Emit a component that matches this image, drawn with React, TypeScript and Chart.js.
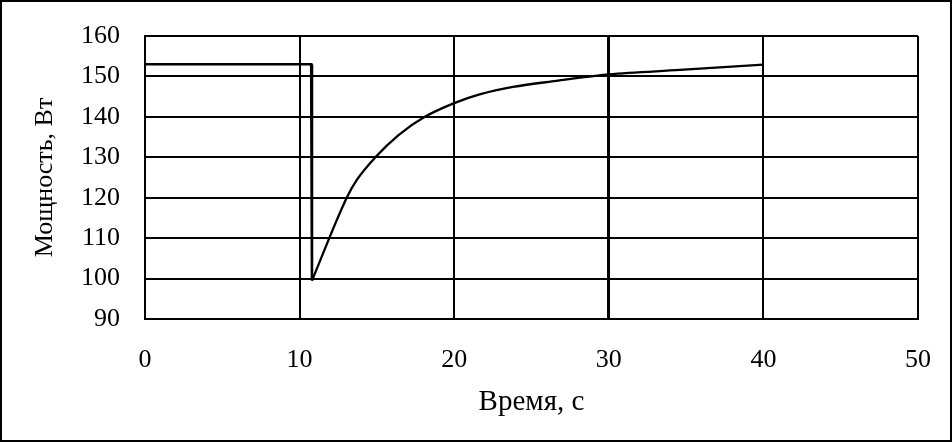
import React, { useEffect, useRef } from "react";
import { Chart, registerables } from "chart.js";

Chart.register(...registerables);

const stepTime = [0, 10.75, 10.8];
const stepPower = [153, 153, 99.5];
const riseTime = [10.8, 13.05, 13.7, 14.9, 16.4, 18.1, 20.0, 21.7, 23.8, 26.6, 30.0, 34.6, 40.0];
const risePower = [99.5, 120.0, 124.4, 130.0, 135.5, 140.0, 143.4, 145.6, 147.4, 148.9, 150.5, 151.6, 152.9];
const xTicks = [0, 10, 20, 30, 40, 50];
const yTicks = [90, 100, 110, 120, 130, 140, 150, 160];
const xTitle = "Время, с";
const yTitle = "Мощность, Вт";

const FONT = "'Liberation Serif', 'Times New Roman', serif";

const framePlugin = {
  id: "frame",
  afterDraw(chart: any) {
    const ctx = chart.ctx;
    ctx.save();
    ctx.strokeStyle = "#000";
    ctx.lineWidth = 2;
    ctx.strokeRect(1, 1, chart.width - 2, chart.height - 2);
    ctx.restore();
  },
};

const zeroPadding = (s: any) => {
  s.paddingTop = 0;
  s.paddingBottom = 0;
  s.paddingLeft = 0;
  s.paddingRight = 0;
};

export default function App() {
  const ref = useRef<HTMLCanvasElement | null>(null);
  useEffect(() => {
    document.body.style.margin = "0";
    const canvas = ref.current;
    if (!canvas) return;
    const stepData = stepTime.map((t, i) => ({ x: t, y: stepPower[i] }));
    const riseData = riseTime.map((t, i) => ({ x: t, y: risePower[i] }));
    const chart = new Chart(canvas, {
      type: "line",
      data: {
        datasets: [
          {
            data: stepData,
            borderColor: "#000",
            borderWidth: 2.6,
            pointRadius: 0,
            tension: 0,
            fill: false,
          },
          {
            data: riseData,
            borderColor: "#000",
            borderWidth: 2.3,
            pointRadius: 0,
            cubicInterpolationMode: "monotone",
            fill: false,
          },
        ],
      },
      options: {
        animation: false,
        responsive: false,
        maintainAspectRatio: false,
        devicePixelRatio: 1,
        layout: { padding: { left: 0, right: 34, top: 36, bottom: 0 } },
        plugins: { legend: { display: false }, tooltip: { enabled: false } },
        scales: {
          x: {
            type: "linear",
            min: 0,
            max: 50,
            afterBuildTicks: (s: any) => {
              s.ticks = xTicks.map((v) => ({ value: v }));
            },
            afterFit: (s: any) => {
              s.height = 123;
              zeroPadding(s);
            },
            grid: {
              color: "#000",
              lineWidth: (c: any) => (c.tick && c.tick.value === 30 ? 3 : 2),
              drawTicks: false,
            },
            border: { display: true, color: "#000", width: 2 },
            ticks: {
              color: "#000",
              padding: 26,
              maxRotation: 0,
              font: { family: FONT, size: 26 },
            },
            title: {
              display: true,
              text: xTitle,
              color: "#000",
              font: { family: FONT, size: 29 },
              padding: { top: 0, bottom: 22 },
            },
          },
          y: {
            type: "linear",
            min: 90,
            max: 160,
            afterBuildTicks: (s: any) => {
              s.ticks = yTicks.map((v) => ({ value: v }));
            },
            afterFit: (s: any) => {
              s.width = 145;
              zeroPadding(s);
            },
            grid: { color: "#000", lineWidth: 2, drawTicks: false },
            border: { display: true, color: "#000", width: 2 },
            ticks: {
              color: "#000",
              padding: 25,
              font: { family: FONT, size: 26 },
            },
            title: {
              display: true,
              text: yTitle,
              color: "#000",
              font: { family: FONT, size: 26 },
              padding: { top: 30, bottom: 0 },
            },
          },
        },
      },
      plugins: [framePlugin],
    });
    return () => chart.destroy();
  }, []);
  return (
    <div style={{ width: 952, height: 442, position: "relative" }}>
      <canvas ref={ref} width={952} height={442} style={{ display: "block", width: 952, height: 442 }} />
    </div>
  );
}
